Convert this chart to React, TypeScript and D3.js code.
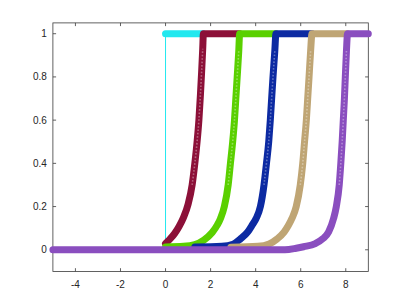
import * as d3 from "d3";

type Pt = [number, number];

// tick labels
const xTicks = [-4, -2, 0, 2, 4, 6, 8];
const yTicks = [0, 0.2, 0.4, 0.6, 0.8, 1];

// series, drawn in this order (later on top)
const cyanStep: Pt[] = [
  [0, 1],
  [1.67, 1],
];
const cyanJump: Pt[] = [
  [0, 0],
  [0, 1],
];
const redSeries: Pt[] = [
  [0, 0.029], [0.2, 0.05], [0.4, 0.075], [0.6, 0.108], [0.8, 0.15],
  [1.0, 0.21], [1.18, 0.3], [1.3, 0.4], [1.4, 0.5], [1.48, 0.6],
  [1.55, 0.72], [1.6, 0.82], [1.65, 0.93], [1.68, 1], [3.29, 1],
];
const greenSeries: Pt[] = [
  [0, 0.013], [0.8, 0.016], [1.3, 0.024], [1.7, 0.045], [2.07, 0.08],
  [2.3, 0.115], [2.44, 0.145], [2.61, 0.2], [2.78, 0.3], [2.88, 0.4],
  [2.98, 0.5], [3.06, 0.6], [3.12, 0.7], [3.18, 0.8], [3.25, 0.92],
  [3.29, 1], [4.9, 1],
];
const blueSeries: Pt[] = [
  [1.3, 0.013], [2.5, 0.016], [3.0, 0.026], [3.32, 0.05], [3.65, 0.083],
  [3.85, 0.115], [4.02, 0.145], [4.21, 0.2], [4.37, 0.3], [4.48, 0.4],
  [4.58, 0.5], [4.65, 0.6], [4.71, 0.7], [4.77, 0.8], [4.85, 0.92],
  [4.9, 1], [6.5, 1],
];
const tanSeries: Pt[] = [
  [2.9, 0.012], [4.1, 0.016], [4.6, 0.027], [4.95, 0.05], [5.27, 0.083],
  [5.45, 0.112], [5.61, 0.145], [5.8, 0.2], [5.98, 0.3], [6.09, 0.4],
  [6.17, 0.5], [6.25, 0.6], [6.31, 0.7], [6.37, 0.8], [6.44, 0.92],
  [6.5, 1], [8.08, 1],
];
const purpleSeries: Pt[] = [
  [-5, 0], [5.3, 0], [5.8, 0.007], [6.13, 0.014], [6.65, 0.029],
  [6.99, 0.052], [7.24, 0.083], [7.46, 0.145], [7.58, 0.2], [7.71, 0.3],
  [7.78, 0.4], [7.84, 0.5], [7.89, 0.6], [7.94, 0.7], [7.98, 0.8],
  [8.03, 0.92], [8.08, 1], [9, 1],
];

const series: { data: Pt[]; color: string }[] = [
  { data: cyanStep, color: "#22e8ef" },
  { data: redSeries, color: "#8c1038" },
  { data: greenSeries, color: "#5ad000" },
  { data: blueSeries, color: "#0c2aa2" },
  { data: tanSeries, color: "#bfa574" },
  { data: purpleSeries, color: "#8a4ebf" },
];

const W = 407;
const H = 305;
const m = { left: 52.9, right: 368.3, top: 22.9, bottom: 271.4 };

export default function App() {
  const x = d3.scaleLinear().domain([-5, 9]).range([m.left, m.right]);
  const y = d3.scaleLinear().domain([-0.1, 1.05]).range([m.bottom, m.top]);
  const line = d3
    .line<Pt>()
    .x((d) => x(d[0]))
    .y((d) => y(d[1]))
    .curve(d3.curveMonotoneX);
  const straight = d3
    .line<Pt>()
    .x((d) => x(d[0]))
    .y((d) => y(d[1]));

  const axisColor = "#3a3a3a";
  const tick = 3.2;
  const font = "'Liberation Sans', Arial, sans-serif";

  return (
    <svg
      width={W}
      height={H}
      style={{ position: "absolute", left: 0, top: 0, background: "#fff" }}
    >
      {/* axes box */}
      <rect
        x={m.left}
        y={m.top}
        width={m.right - m.left}
        height={m.bottom - m.top}
        fill="none"
        stroke={axisColor}
        strokeWidth={0.8}
      />
      {xTicks.map((t) => (
        <g key={"x" + t}>
          <line x1={x(t)} x2={x(t)} y1={m.bottom} y2={m.bottom - tick} stroke={axisColor} strokeWidth={0.8} />
          <line x1={x(t)} x2={x(t)} y1={m.top} y2={m.top + tick} stroke={axisColor} strokeWidth={0.8} />
          <text
            x={x(t)}
            y={288}
            textAnchor="middle"
            fontFamily={font}
            fontSize={10}
            fill="#262626"
          >
            {String(t)}
          </text>
        </g>
      ))}
      {yTicks.map((t) => (
        <g key={"y" + t}>
          <line x1={m.left} x2={m.left + tick} y1={y(t)} y2={y(t)} stroke={axisColor} strokeWidth={0.8} />
          <line x1={m.right} x2={m.right - tick} y1={y(t)} y2={y(t)} stroke={axisColor} strokeWidth={0.8} />
          <text
            x={m.left - 6}
            y={y(t)}
            dy="0.35em"
            textAnchor="end"
            fontFamily={font}
            fontSize={10}
            fill="#262626"
          >
            {String(t)}
          </text>
        </g>
      ))}

      {/* thin connector of the step series */}
      <path d={straight(cyanJump) ?? ""} fill="none" stroke="#22e8ef" strokeWidth={1} />

      {series.map((s, i) => {
        // steep stretch: hollow markers show through as a lighter speckle
        const steep = s.data.filter((d) => d[1] >= 0.28 && d[1] <= 0.95);
        return (
          <g key={i}>
            <path
              d={line(s.data) ?? ""}
              fill="none"
              stroke={s.color}
              strokeWidth={7}
              strokeLinecap="round"
              strokeLinejoin="round"
            />
            {steep.length > 1 && (
              <path
                d={line(steep) ?? ""}
                fill="none"
                stroke="#fff"
                strokeOpacity={0.35}
                strokeWidth={1.6}
                strokeDasharray="1.6 1.8"
              />
            )}
          </g>
        );
      })}
    </svg>
  );
}
